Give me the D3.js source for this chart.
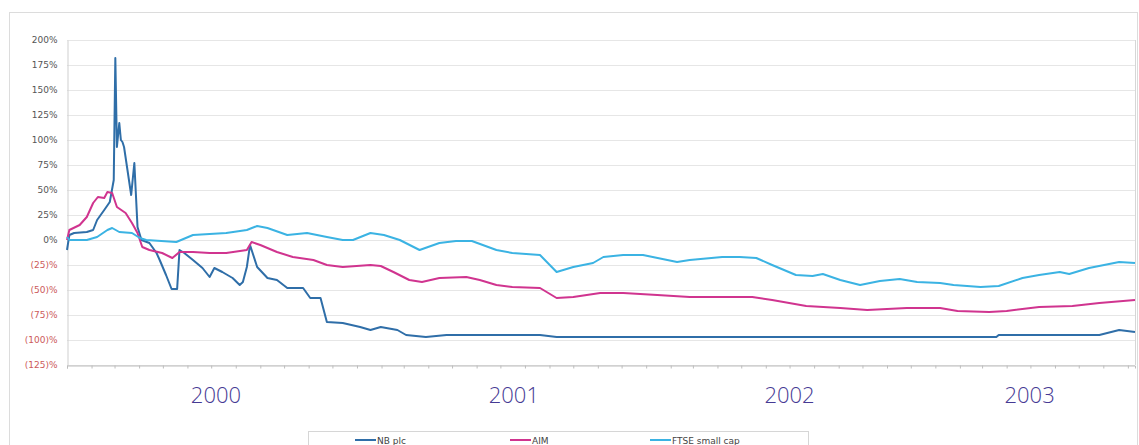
<!DOCTYPE html>
<html>
<head>
<meta charset="utf-8">
<script src="https://cdn.jsdelivr.net/npm/d3@7"></script>
<style>
  html, body { margin: 0; padding: 0; background: #ffffff; }
  svg { display: block; }
</style>
</head>
<body>
<svg id="chart" width="1139" height="445"></svg>
<script>
// ---------- DATA ----------
const seriesNames = ["NB plc", "AIM", "FTSE small cap"];
const yTickValues = [200, 175, 150, 125, 100, 75, 50, 25, 0, -25, -50, -75, -100, -125];
const yearLabels = ["2000", "2001", "2002", "2003"];
const yearLabelDates = ["2000-07-07", "2001-07-18", "2002-07-01", "2003-04-30"];
const xDomain = ["2000-01-01", "2003-09-10"];

const nbPlc = [
  ["2000-01-01", -10], ["2000-01-04", 5], ["2000-01-10", 7], ["2000-01-26", 8],
  ["2000-02-03", 10], ["2000-02-08", 20], ["2000-02-17", 30], ["2000-02-24", 38],
  ["2000-02-29", 60], ["2000-03-02", 182], ["2000-03-04", 93], ["2000-03-07", 117],
  ["2000-03-09", 100], ["2000-03-11", 98], ["2000-03-13", 93], ["2000-03-22", 45],
  ["2000-03-26", 77], ["2000-03-30", 13], ["2000-04-04", 0], ["2000-04-14", -3],
  ["2000-04-23", -13], ["2000-04-27", -20], ["2000-05-05", -35], ["2000-05-12", -49],
  ["2000-05-19", -49], ["2000-05-22", -10], ["2000-05-28", -13], ["2000-06-08", -20],
  ["2000-06-20", -28], ["2000-06-29", -37], ["2000-07-05", -28], ["2000-07-15", -32],
  ["2000-07-28", -38], ["2000-08-06", -45], ["2000-08-10", -42], ["2000-08-15", -27],
  ["2000-08-19", -5], ["2000-08-28", -27], ["2000-09-10", -38], ["2000-09-22", -40],
  ["2000-10-05", -48], ["2000-10-25", -48], ["2000-11-03", -58], ["2000-11-16", -58],
  ["2000-11-24", -82], ["2000-12-14", -83], ["2001-01-05", -87], ["2001-01-18", -90],
  ["2001-01-31", -87], ["2001-02-21", -90], ["2001-03-04", -95], ["2001-03-29", -97],
  ["2001-04-24", -95], ["2001-08-20", -95], ["2001-09-10", -97], ["2003-03-19", -97],
  ["2003-03-22", -95], ["2003-07-27", -95], ["2003-08-21", -90], ["2003-09-10", -92]
];

const aim = [
  ["2000-01-01", 0], ["2000-01-04", 10], ["2000-01-17", 15], ["2000-01-26", 23],
  ["2000-02-03", 37], ["2000-02-09", 43], ["2000-02-17", 42], ["2000-02-21", 48],
  ["2000-02-27", 47], ["2000-03-04", 33], ["2000-03-15", 27], ["2000-03-23", 17],
  ["2000-03-30", 7], ["2000-04-05", -7], ["2000-04-14", -10], ["2000-04-30", -13],
  ["2000-05-13", -18], ["2000-05-22", -12], ["2000-06-08", -12], ["2000-06-29", -13],
  ["2000-07-20", -13], ["2000-08-15", -10], ["2000-08-21", -2], ["2000-09-01", -5],
  ["2000-09-22", -12], ["2000-10-12", -17], ["2000-11-07", -20], ["2000-11-24", -25],
  ["2000-12-14", -27], ["2001-01-18", -25], ["2001-01-31", -26], ["2001-02-16", -32],
  ["2001-03-08", -40], ["2001-03-24", -42], ["2001-04-15", -38], ["2001-05-19", -37],
  ["2001-06-05", -40], ["2001-06-26", -45], ["2001-07-16", -47], ["2001-08-20", -48],
  ["2001-09-10", -58], ["2001-10-01", -57], ["2001-11-04", -53], ["2001-12-03", -53],
  ["2002-01-15", -55], ["2002-02-25", -57], ["2002-04-29", -57], ["2002-05-15", -57],
  ["2002-06-09", -60], ["2002-07-22", -66], ["2002-09-03", -68], ["2002-10-07", -70],
  ["2002-11-26", -68], ["2003-01-07", -68], ["2003-01-29", -71], ["2003-03-10", -72],
  ["2003-04-01", -71], ["2003-05-12", -67], ["2003-06-23", -66], ["2003-07-27", -63],
  ["2003-09-10", -60]
];

const ftseSmallCap = [
  ["2000-01-01", 3], ["2000-01-04", 0], ["2000-01-26", 0], ["2000-02-08", 3],
  ["2000-02-21", 10], ["2000-02-27", 12], ["2000-03-07", 8], ["2000-03-23", 7],
  ["2000-04-02", 2], ["2000-04-10", 0], ["2000-05-18", -2], ["2000-06-08", 5],
  ["2000-07-20", 7], ["2000-08-15", 10], ["2000-08-28", 14], ["2000-09-10", 12],
  ["2000-10-05", 5], ["2000-10-30", 7], ["2000-11-24", 3], ["2000-12-14", 0],
  ["2000-12-27", 0], ["2001-01-18", 7], ["2001-02-04", 5], ["2001-02-24", 0],
  ["2001-03-21", -10], ["2001-04-15", -3], ["2001-05-06", -1], ["2001-05-26", -1],
  ["2001-06-26", -10], ["2001-07-16", -13], ["2001-08-20", -15], ["2001-09-10", -32],
  ["2001-10-01", -27], ["2001-10-26", -23], ["2001-11-08", -17], ["2001-12-03", -15],
  ["2001-12-28", -15], ["2002-02-09", -22], ["2002-02-25", -20], ["2002-04-07", -17],
  ["2002-04-29", -17], ["2002-05-20", -18], ["2002-06-09", -25], ["2002-07-09", -35],
  ["2002-07-30", -36], ["2002-08-12", -34], ["2002-09-03", -40], ["2002-09-28", -45],
  ["2002-10-23", -41], ["2002-11-17", -39], ["2002-12-09", -42], ["2003-01-07", -43],
  ["2003-01-24", -45], ["2003-02-27", -47], ["2003-03-22", -46], ["2003-04-21", -38],
  ["2003-05-12", -35], ["2003-06-07", -32], ["2003-06-19", -34], ["2003-07-14", -28],
  ["2003-08-21", -22], ["2003-09-10", -23]
];

const seriesData = [nbPlc, aim, ftseSmallCap];
const seriesColors = ["#2f6ea8", "#d0348f", "#3bb3e3"];

// ---------- DRAW ----------
const parse = d3.utcParse("%Y-%m-%d");
const svg = d3.select("#chart");
const plot = { left: 67, right: 1135, top: 40, bottom: 365 };

// outer frame
svg.append("rect")
  .attr("x", 9.5).attr("y", 12.5)
  .attr("width", 1128).attr("height", 440)
  .attr("fill", "none").attr("stroke", "#dcdcdc").attr("stroke-width", 1);

const x = d3.scaleUtc()
  .domain(xDomain.map(parse))
  .range([plot.left, plot.right]);
const y = d3.scaleLinear()
  .domain([-125, 200])
  .range([plot.bottom, plot.top]);

// gridlines
svg.append("g")
  .selectAll("line")
  .data(yTickValues)
  .join("line")
  .attr("x1", plot.left).attr("x2", plot.right)
  .attr("y1", d => Math.round(y(d)) + 0.5).attr("y2", d => Math.round(y(d)) + 0.5)
  .attr("stroke", "#e6e6e6").attr("stroke-width", 1);

// plot border (right side)
svg.append("line")
  .attr("x1", plot.right + 0.5).attr("x2", plot.right + 0.5)
  .attr("y1", plot.top).attr("y2", plot.bottom)
  .attr("stroke", "#d6d6d6");

// y axis
const fmt = v => v < 0 ? "(" + (-v) + ")%" : v + "%";
const yAxis = svg.append("g")
  .attr("transform", `translate(${plot.left + 0.5},0)`)
  .call(d3.axisLeft(y).tickValues(yTickValues).tickSize(0).tickPadding(10).tickFormat(fmt));
yAxis.select(".domain").attr("stroke", "#cfcfcf");
yAxis.selectAll("text")
  .attr("font-family", "'DejaVu Sans', Verdana, sans-serif")
  .attr("font-size", 9)
  .attr("fill", d => d < 0 ? "#cc5a5a" : "#555");

// x axis (monthly ticks)
const xAxis = svg.append("g")
  .attr("transform", `translate(0,${plot.bottom + 0.5})`)
  .call(d3.axisBottom(x).ticks(d3.utcMonth.every(1)).tickSize(3).tickFormat(""));
xAxis.select(".domain").attr("stroke", "#bdbdbd");
xAxis.selectAll(".tick line").attr("stroke", "#bdbdbd");

// lines
const line = d3.line()
  .x(d => x(parse(d[0])))
  .y(d => y(d[1]))
  .curve(d3.curveLinear);

svg.append("g")
  .selectAll("path")
  .data(seriesData)
  .join("path")
  .attr("d", d => line(d))
  .attr("fill", "none")
  .attr("stroke", (d, i) => seriesColors[i])
  .attr("stroke-width", 2)
  .attr("stroke-linejoin", "round");

// year labels
svg.append("g")
  .selectAll("text")
  .data(yearLabels)
  .join("text")
  .attr("x", (d, i) => x(parse(yearLabelDates[i])))
  .attr("y", 403)
  .attr("text-anchor", "middle")
  .attr("font-family", "'Open Sans', 'DejaVu Sans', sans-serif")
  .attr("font-weight", 300)
  .attr("font-size", 22)
  .attr("fill", "#463a94")
  .text(d => d);

// legend
const legend = svg.append("g");
legend.append("rect")
  .attr("x", 308.5).attr("y", 431.5)
  .attr("width", 500).attr("height", 20)
  .attr("fill", "#fff").attr("stroke", "#d6d6d6");
const legendLineX = [355, 510, 650];
seriesNames.forEach((name, i) => {
  const g = legend.append("g").attr("transform", `translate(${legendLineX[i]},440)`);
  g.append("line").attr("x1", 0).attr("x2", 21).attr("y1", 0).attr("y2", 0)
    .attr("stroke", seriesColors[i]).attr("stroke-width", 2);
  g.append("text").attr("x", 22).attr("y", 3.5)
    .attr("font-family", "'DejaVu Sans', Verdana, sans-serif")
    .attr("font-size", 9).attr("fill", "#444")
    .text(name);
});
</script>
</body>
</html>
